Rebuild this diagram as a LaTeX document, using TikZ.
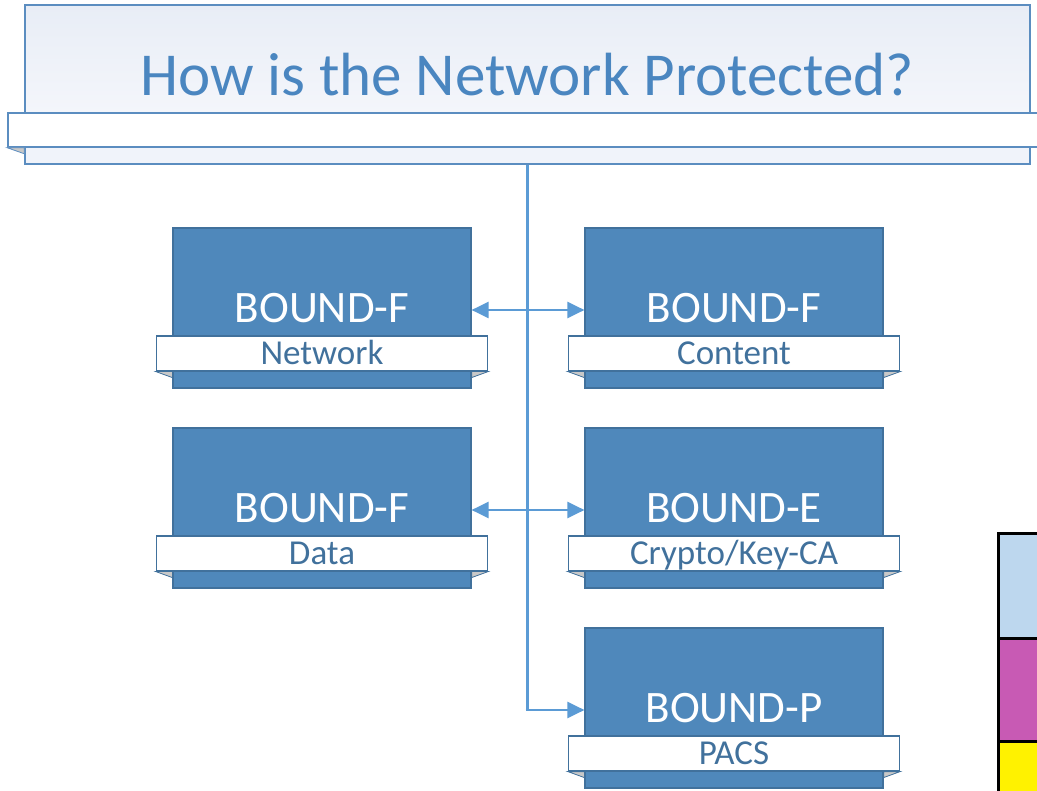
\documentclass[tikz,border=0pt]{standalone}
\usepackage{fontspec}
\setmainfont{Carlito}
\usetikzlibrary{arrows.meta}
\definecolor{boxfill}{HTML}{4F88BB}
\definecolor{boxline}{HTML}{41719C}
\definecolor{labtext}{HTML}{41719C}
\definecolor{conncol}{HTML}{5B9BD5}
\definecolor{titlecol}{HTML}{4A86C0}
\definecolor{panelline}{HTML}{5B8DC0}
\definecolor{lblue}{HTML}{BDD7EE}
\definecolor{magent}{HTML}{C85AB4}
\definecolor{foldgray}{HTML}{C8C8C8}
\tikzset{
  bbox/.style={draw=boxline, line width=1.2pt, fill=boxfill, minimum width=298pt, minimum height=160pt, inner sep=0pt,
    text=white, font=\fontsize{45}{50}\selectfont, text height=29pt, text depth=0pt},
  ribbonbox/.style={draw=boxline, line width=1.2pt, fill=white, minimum width=331pt, minimum height=35pt, inner sep=0pt,
    text=labtext, font=\fontsize{35}{38}\selectfont, text height=22.5pt, text depth=0pt},
  fold/.style={fill=foldgray, draw=boxline, line width=0.8pt},
  conn/.style={draw=conncol, line width=2.2pt},
  tip/.style={-{Triangle[length=17pt,width=16pt]}},
  tips/.style={{Triangle[length=17pt,width=16pt]}-{Triangle[length=17pt,width=16pt]}},
  panel/.style={draw=panelline, line width=1.5pt, inner sep=0pt}
}
\newcommand{\myboundbox}[5]{%
  \node[bbox] (#1) at (#2,#3) {#4};
  \node[ribbonbox] (#1l) at (#2,#3+45.5) {#5};
  \filldraw[fold] (#1l.south west) -- (#1l.south west -| #1.west) -- ++(0,6) -- cycle;
  \filldraw[fold] (#1l.south east) -- (#1l.south east -| #1.east) -- ++(0,6) -- cycle;
}
\begin{document}
\begin{tikzpicture}[x=1pt,y=-1pt]
\useasboundingbox (0,0) rectangle (1037,791);
\clip (0,0) rectangle (1037,791);
\fill[white] (0,0) rectangle (1037,791);
% banner
\node[panel, minimum width=1005pt, minimum height=108pt, top color={rgb,255:red,232;green,237;blue,246}, bottom color={rgb,255:red,244;green,246;blue,251}] (toppanel) at (527.5,59) {};
\node[panel, minimum width=1005pt, minimum height=17pt, fill={rgb,255:red,240;green,243;blue,250}] (lowpanel) at (527.5,155.5) {};
\node[panel, minimum width=1037pt, minimum height=34pt, fill=white] (ribbon) at (526.5,130) {};
\filldraw[fold, draw=panelline] (ribbon.south west) -- (ribbon.south west -| lowpanel.west) -- ++(0,6) -- cycle;
\node[text=titlecol, font=\fontsize{61}{66}\selectfont, text height=39pt, text depth=0pt, inner sep=0pt] (title) at (527,76.5) {How is the Network Protected?};
% boxes
\myboundbox{b1}{322}{308}{BOUND-F}{Network}
\myboundbox{b2}{734}{308}{BOUND-F}{Content}
\myboundbox{b3}{322}{508}{BOUND-F}{Data}
\myboundbox{b4}{734}{508}{BOUND-E}{Crypto/Key-CA}
\myboundbox{b5}{734}{708}{BOUND-P}{PACS}
% connectors
\draw[conn] (lowpanel.south) |- ([xshift=-10pt,yshift=-2pt]b5.west);
\draw[conn, tip] ([xshift=-2pt,yshift=-2pt]b5.west -| lowpanel.south) -- ([yshift=-2pt]b5.west);
\draw[conn, tips] ([yshift=-2pt]b1.east) -- ([yshift=-2pt]b2.west);
\draw[conn, tips] ([yshift=-2pt]b3.east) -- ([yshift=-2pt]b4.west);
% colour blocks
\draw[line width=3pt, fill=lblue] (998.5,533.5) rectangle (1045,638.5);
\draw[line width=3pt, fill=magent] (998.5,638.5) rectangle (1045,741);
\draw[line width=3pt, fill=yellow] (998.5,741) rectangle (1045,800);
\end{tikzpicture}
\end{document}
